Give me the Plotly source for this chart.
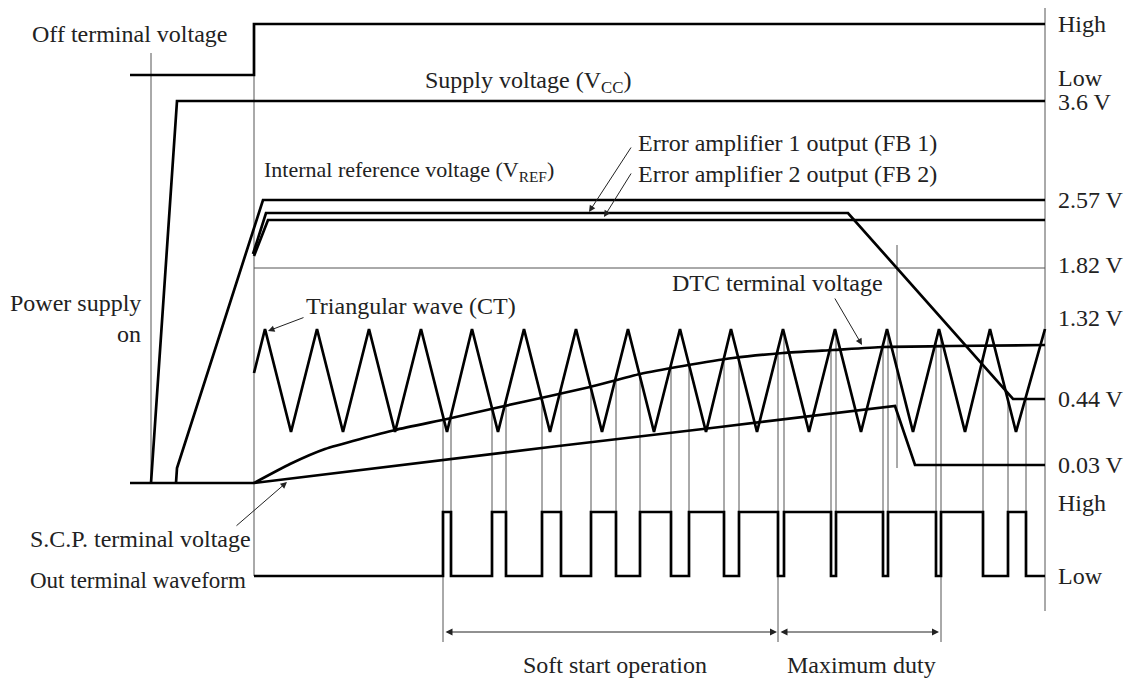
import numpy as np
import plotly.graph_objects as go

# ---------------- waveform data (time axis t, level axis v; v grows downward) ----------------
ground_t = [130, 254]
ground_v = [483, 483]

off_t = [130, 254, 254, 1045]
off_v = [75, 75, 24, 24]

vcc_t = [151, 177, 1045]
vcc_v = [483, 101, 101]

vref_t = [176, 177, 263, 1045]
vref_v = [483, 468, 200, 200]

fb1_t = [253, 266, 848, 1013, 1045]
fb1_v = [254, 213, 213, 399, 399]

fb2_t = [254, 268, 1045]
fb2_v = [256, 220, 220]

tri_t = [254, 265, 291, 317, 343, 369, 395, 421, 447, 472, 498, 524, 550, 576, 602, 628,
         654, 680, 706, 731, 757, 783, 809, 835, 861, 887, 913, 939, 965, 990, 1016, 1045]
tri_v = [373, 329, 432, 329, 432, 329, 432, 329, 432, 329, 432, 329, 432, 329, 432, 329,
         432, 329, 432, 329, 432, 329, 432, 329, 432, 329, 432, 329, 432, 329, 432, 329]

dtc_t = [254, 290, 325, 395, 447, 500, 550, 590, 640, 683, 733, 783, 833, 883, 950, 1045]
dtc_v = [483, 464, 449, 430, 419, 407, 396, 387, 374, 366, 358, 353, 350, 347, 346, 345]

scp_t = [254, 400, 550, 720, 895, 915, 1045]
scp_v = [483, 465, 447, 427, 406, 465, 465]

out_high = 512
out_low = 576
out_edge_t = [254, 443, 451, 492, 506, 542, 561, 591, 616, 640, 671, 689, 724, 739, 778,
              784, 831, 836, 883, 888, 936, 941, 983, 1008, 1026, 1045]
out_state = ["L", "H", "L", "H", "L", "H", "L", "H", "L", "H", "L", "H", "L", "H", "L",
             "H", "L", "H", "L", "H", "L", "H", "L", "H", "L", "L"]

# level labels on the right
level_text = ["High", "Low", "3.6 V", "2.57 V", "1.82 V", "1.32 V", "0.44 V", "0.03 V", "High", "Low"]
level_v = [24, 78, 102, 200, 265, 318, 399, 465, 503, 576]

# thin guide lines: (t0, v0, t1, v1)
guides = [
    (151, 53, 151, 483),
    (254, 75, 254, 576),
    (254, 268, 1045, 268),
    (1045, 8, 1045, 611),
    (897, 245, 897, 468),
]
long_marks = [443, 778, 941]
mark_bottom = 642

# period arrows
span_t = [443, 778, 940]
span_v = 632
span_labels = ["Soft start operation", "Maximum duty"]

# ----------------------------------------------------------------------------------------------
FONT = "Liberation Serif, Times New Roman, serif"
TXT = "#222222"
THICK = 2.7
THIN_C = "#555555"

fig = go.Figure()

def thick(t, v, shape="linear", smoothing=None):
    ln = dict(color="black", width=THICK, shape=shape)
    if smoothing is not None:
        ln["smoothing"] = smoothing
    fig.add_trace(go.Scatter(x=t, y=v, mode="lines", line=ln, hoverinfo="skip", showlegend=False))

thick(ground_t, ground_v)
thick(off_t, off_v)
thick(vcc_t, vcc_v)
thick(vref_t, vref_v)
thick(fb1_t, fb1_v)
thick(fb2_t, fb2_v)
thick(tri_t, tri_v)
thick(dtc_t, dtc_v, shape="spline", smoothing=0.5)
thick(scp_t, scp_v)
out_v = [out_high if s == "H" else out_low for s in out_state]
thick(out_edge_t, out_v, shape="hv")

shapes = []
for (t0, v0, t1, v1) in guides:
    shapes.append(dict(type="line", x0=t0, y0=v0, x1=t1, y1=v1, xref="x", yref="y",
                       line=dict(color=THIN_C, width=1), layer="below"))
for e in out_edge_t[1:-1]:
    top = float(np.interp(e, tri_t, tri_v))
    bottom = mark_bottom if e in long_marks else out_high
    shapes.append(dict(type="line", x0=e, y0=top, x1=e, y1=bottom, xref="x", yref="y",
                       line=dict(color=THIN_C, width=1), layer="below"))

ann = []
def label(text, x, y, anchor="left", size=24):
    ann.append(dict(text=text, x=x, y=y, xref="x", yref="y", xanchor=anchor, yanchor="middle",
                    showarrow=False, font=dict(family=FONT, size=size, color=TXT)))

for t, v in zip(level_text, level_v):
    label(t, 1056, v)

label("Off terminal voltage", 30, 34)
label("Supply voltage (V<sub>CC</sub>)", 423, 82)
label("Internal reference voltage (V<sub>REF</sub>)", 262, 171, size=22)
label("Error amplifier 1 output (FB 1)", 636, 143)
label("Error amplifier 2 output (FB 2)", 636, 174)
label("Power supply", 143, 303, anchor="right")
label("on", 143, 334, anchor="right")
label("Triangular wave (CT)", 304, 306)
label("DTC terminal voltage", 670, 283)
label("S.C.P. terminal voltage", 28, 539)
label("Out terminal waveform", 28, 580, size=23)
label(span_labels[0], (span_t[0] + span_t[1]) / 2 + 4, 665, anchor="center")
label(span_labels[1], (span_t[1] + span_t[2]) / 2 + 2, 665, anchor="center")

def arrow(tail, head):
    ann.append(dict(text="", x=head[0], y=head[1], ax=tail[0], ay=tail[1], xref="x", yref="y",
                    axref="x", ayref="y", showarrow=True, arrowhead=2, arrowsize=1.3,
                    arrowwidth=1, arrowcolor="#222222"))

arrow((632, 146), (589, 212))
arrow((632, 172), (604, 217))
arrow((305, 317), (268, 331))
arrow((834, 297), (862, 345))
arrow((235, 527), (287, 482))

for a, b in [(span_t[0], span_t[1]), (span_t[1], span_t[2])]:
    ann.append(dict(text="", x=b - 1, y=span_v, ax=a + 1, ay=span_v, xref="x", yref="y",
                    axref="x", ayref="y", showarrow=True, arrowhead=2, startarrowhead=2,
                    arrowside="end+start", arrowsize=1.4, startarrowsize=1.4,
                    arrowwidth=1, arrowcolor="#222222"))

fig.update_layout(
    width=1134, height=681,
    margin=dict(l=0, r=0, t=0, b=0),
    paper_bgcolor="white", plot_bgcolor="white",
    xaxis=dict(range=[0, 1134], visible=False, fixedrange=True),
    yaxis=dict(range=[681, 0], visible=False, fixedrange=True),
    shapes=shapes, annotations=ann, showlegend=False,
)

fig.write_html("out.html", config={"displayModeBar": False},
               post_script="document.body.style.margin='0';document.body.style.overflow='hidden';")
